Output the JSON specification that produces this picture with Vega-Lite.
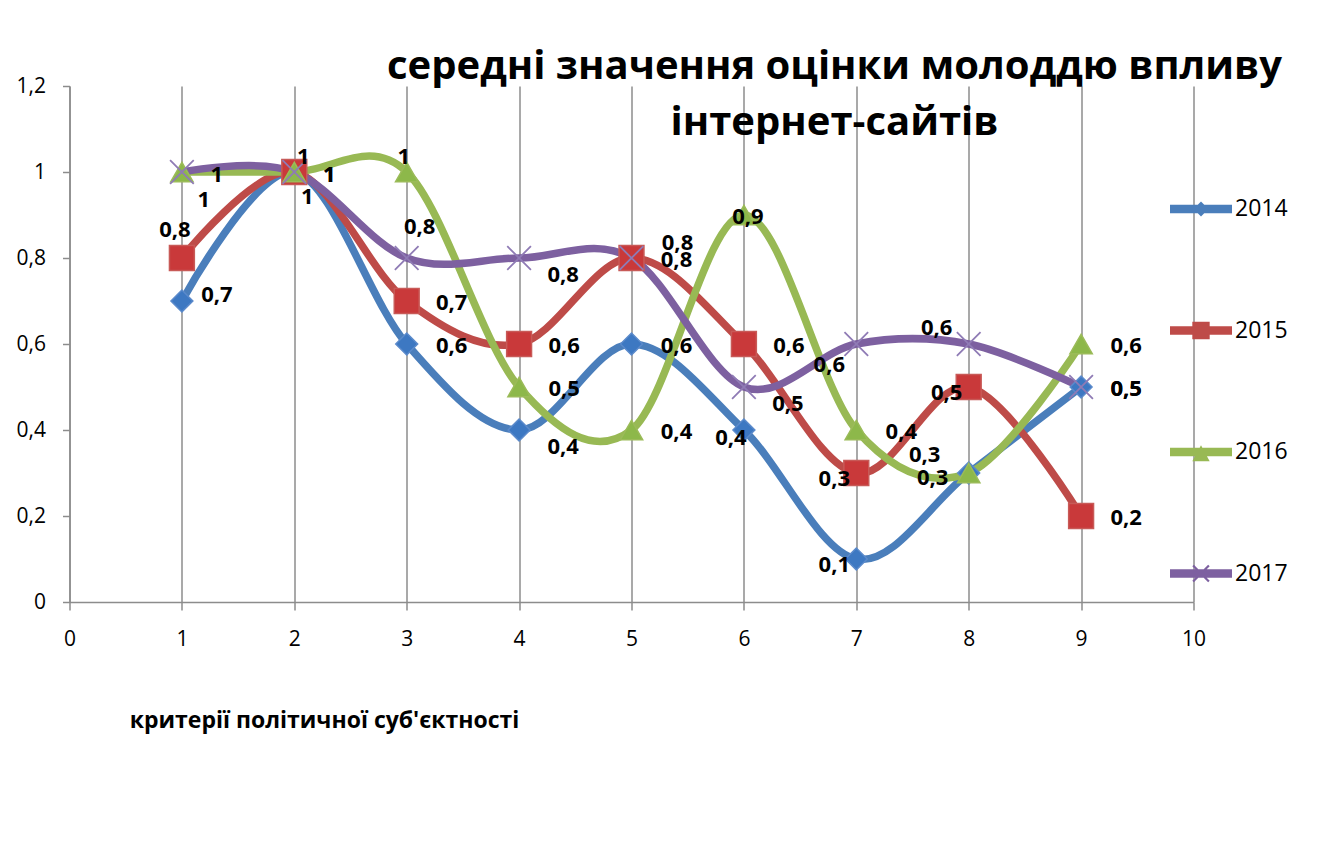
{
  "$schema": "https://vega.github.io/schema/vega-lite/v6.json",
  "width": 1124,
  "height": 516,
  "autosize": {"type": "none"},
  "padding": {"left": 69.5, "top": 86, "right": 124.5, "bottom": 252},
  "background": "white",
  "title": {
    "text": ["середні значення оцінки молоддю впливу", "інтернет-сайтів"],
    "font": "Open Sans",
    "fontSize": 40,
    "fontWeight": "bold",
    "color": "black",
    "anchor": "middle",
    "frame": "group",
    "lineHeight": 56,
    "baseline": "bottom",
    "offset": 0,
    "dx": 203,
    "dy": 108
  },
  "datasets": {
    "d": [
      {"series": "2014", "x": 1, "y": 0.7},
      {"series": "2014", "x": 2, "y": 1},
      {"series": "2014", "x": 3, "y": 0.6},
      {"series": "2014", "x": 4, "y": 0.4},
      {"series": "2014", "x": 5, "y": 0.6},
      {"series": "2014", "x": 6, "y": 0.4},
      {"series": "2014", "x": 7, "y": 0.1},
      {"series": "2014", "x": 8, "y": 0.3},
      {"series": "2014", "x": 9, "y": 0.5},
      {"series": "2015", "x": 1, "y": 0.8},
      {"series": "2015", "x": 2, "y": 1},
      {"series": "2015", "x": 3, "y": 0.7},
      {"series": "2015", "x": 4, "y": 0.6},
      {"series": "2015", "x": 5, "y": 0.8},
      {"series": "2015", "x": 6, "y": 0.6},
      {"series": "2015", "x": 7, "y": 0.3},
      {"series": "2015", "x": 8, "y": 0.5},
      {"series": "2015", "x": 9, "y": 0.2},
      {"series": "2016", "x": 1, "y": 1},
      {"series": "2016", "x": 2, "y": 1},
      {"series": "2016", "x": 3, "y": 1},
      {"series": "2016", "x": 4, "y": 0.5},
      {"series": "2016", "x": 5, "y": 0.4},
      {"series": "2016", "x": 6, "y": 0.9},
      {"series": "2016", "x": 7, "y": 0.4},
      {"series": "2016", "x": 8, "y": 0.3},
      {"series": "2016", "x": 9, "y": 0.6},
      {"series": "2017", "x": 1, "y": 1},
      {"series": "2017", "x": 2, "y": 1},
      {"series": "2017", "x": 3, "y": 0.8},
      {"series": "2017", "x": 4, "y": 0.8},
      {"series": "2017", "x": 5, "y": 0.8},
      {"series": "2017", "x": 6, "y": 0.5},
      {"series": "2017", "x": 7, "y": 0.6},
      {"series": "2017", "x": 8, "y": 0.6},
      {"series": "2017", "x": 9, "y": 0.5}
    ]
  },
  "data": {"name": "d"},
  "encoding": {
    "x": {
      "field": "x",
      "type": "quantitative",
      "scale": {"domain": [0, 10], "nice": false},
      "axis": {
        "values": [0, 1, 2, 3, 4, 5, 6, 7, 8, 9, 10],
        "format": "d",
        "grid": true,
        "gridColor": "#8C8C8C",
        "gridWidth": 1.5,
        "domainColor": "#8C8C8C",
        "domainWidth": 1.5,
        "tickColor": "#8C8C8C",
        "tickWidth": 1.5,
        "tickSize": 8,
        "labelFont": "Open Sans",
        "labelFontSize": 21,
        "labelColor": "black",
        "labelPadding": 18,
        "labelFlush": false,
        "title": "критерії політичної суб'єктності",
        "titleFont": "Open Sans",
        "titleFontSize": 23,
        "titleFontWeight": "bold",
        "titleColor": "black",
        "titleAnchor": "start",
        "titleAlign": "center",
        "titleBaseline": "middle",
        "titleX": 254.5,
        "titleY": 118
      }
    },
    "y": {
      "field": "y",
      "type": "quantitative",
      "scale": {"domain": [0, 1.2], "nice": false},
      "axis": {
        "values": [0, 0.2, 0.4, 0.6, 0.8, 1, 1.2],
        "format": "~g",
        "grid": false,
        "domainColor": "#8C8C8C",
        "domainWidth": 1.5,
        "tickColor": "#8C8C8C",
        "tickWidth": 1.5,
        "tickSize": 7,
        "labelFont": "Open Sans",
        "labelFontSize": 21,
        "labelColor": "black",
        "labelPadding": 17,
        "labelFlush": false,
        "title": null
      }
    }
  },
  "layer": [
    {
      "mark": {"type": "line", "interpolate": "cardinal", "strokeWidth": 7.5, "strokeCap": "round"},
      "encoding": {
        "color": {
          "field": "series",
          "type": "nominal",
          "scale": {"domain": ["2014", "2015", "2016", "2017"], "range": ["#4A7EBB", "#BE4B48", "#98B954", "#7D60A0"]},
          "legend": {
            "orient": "none",
            "legendX": 1100.5,
            "legendY": 92,
            "title": null,
            "padding": 0,
            "labelFont": "Open Sans",
            "labelFontSize": 23,
            "labelColor": "black",
            "labelOffset": 3,
            "symbolSize": 3844,
            "symbolStrokeWidth": 0,
            "rowPadding": 78.5,
            "encode": {
              "symbols": {
                "update": {
                  "shape": {"signal": "datum.value == '2014' ? 'M-1,-0.14L1,-0.14L1,0.14L-1,0.14ZM0,-0.24L0.24,0L0,0.24L-0.24,0Z' : datum.value == '2015' ? 'M-1,-0.14L1,-0.14L1,0.14L-1,0.14ZM-0.28,-0.28L0.28,-0.28L0.28,0.28L-0.28,0.28Z' : datum.value == '2016' ? 'M-1,-0.14L1,-0.14L1,0.14L-1,0.14ZM0,-0.22L0.28,0.3L-0.28,0.3Z' : 'M-1,-0.14L1,-0.14L1,0.14L-1,0.14ZM-0.28,-0.23L-0.23,-0.28L0.28,0.23L0.23,0.28ZM0.23,-0.28L0.28,-0.23L-0.23,0.28L-0.28,0.23Z'"},
                  "fill": {"scale": "color", "field": "value"},
                  "stroke": {"value": "transparent"},
                  "strokeWidth": {"value": 0},
                  "opacity": {"value": 1}
                }
              }
            }
          }
        }
      }
    },
    {
      "transform": [{"filter": "datum.series == '2014'"}],
      "mark": {"type": "point", "shape": "diamond", "size": 480, "filled": true, "opacity": 1, "fill": "#3D78C2", "stroke": "#5B8ACB", "strokeWidth": 1.5}
    },
    {
      "transform": [{"filter": "datum.series == '2015'"}],
      "mark": {"type": "point", "shape": "square", "size": 620, "filled": true, "opacity": 1, "fill": "#C9393A", "stroke": "#C85A57", "strokeWidth": 1.5}
    },
    {
      "transform": [{"filter": "datum.series == '2016'"}],
      "mark": {"type": "point", "shape": "triangle-up", "size": 500, "filled": true, "opacity": 1, "fill": "#8DB84A", "stroke": "#9BBB59", "strokeWidth": 1.5}
    },
    {
      "transform": [{"filter": "datum.series == '2017'"}],
      "mark": {"type": "point", "shape": "M-1,-1L1,1M-1,1L1,-1", "size": 560, "filled": false, "opacity": 1, "stroke": "#8F7BB5", "strokeWidth": 1.8}
    },
    {
      "transform": [{"filter": "indexof(['2014|3','2014|5','2014|9','2015|3','2015|4','2015|6','2015|9','2016|4','2016|5','2016|7','2016|9','2017|5','2017|9'], datum.series + '|' + datum.x) >= 0"}],
      "mark": {"type": "text", "dx": 45, "dy": 2, "font": "Open Sans", "fontWeight": "bold", "fontSize": 22, "color": "black", "align": "center", "baseline": "middle"},
      "encoding": {"text": {"field": "y", "type": "quantitative", "format": "~g"}}
    },
    {
      "transform": [{"filter": "indexof(['2014|1'], datum.series + '|' + datum.x) >= 0"}],
      "mark": {"type": "text", "dx": 35, "dy": -6, "font": "Open Sans", "fontWeight": "bold", "fontSize": 22, "color": "black", "align": "center", "baseline": "middle"},
      "encoding": {"text": {"field": "y", "type": "quantitative", "format": "~g"}}
    },
    {
      "transform": [{"filter": "indexof(['2014|2'], datum.series + '|' + datum.x) >= 0"}],
      "mark": {"type": "text", "dx": 13, "dy": 25, "font": "Open Sans", "fontWeight": "bold", "fontSize": 22, "color": "black", "align": "center", "baseline": "middle"},
      "encoding": {"text": {"field": "y", "type": "quantitative", "format": "~g"}}
    },
    {
      "transform": [{"filter": "indexof(['2014|4','2017|4','2017|6'], datum.series + '|' + datum.x) >= 0"}],
      "mark": {"type": "text", "dx": 44, "dy": 17, "font": "Open Sans", "fontWeight": "bold", "fontSize": 22, "color": "black", "align": "center", "baseline": "middle"},
      "encoding": {"text": {"field": "y", "type": "quantitative", "format": "~g"}}
    },
    {
      "transform": [{"filter": "indexof(['2014|6'], datum.series + '|' + datum.x) >= 0"}],
      "mark": {"type": "text", "dx": -13, "dy": 8, "font": "Open Sans", "fontWeight": "bold", "fontSize": 22, "color": "black", "align": "center", "baseline": "middle"},
      "encoding": {"text": {"field": "y", "type": "quantitative", "format": "~g"}}
    },
    {
      "transform": [{"filter": "indexof(['2014|7','2015|7','2015|8'], datum.series + '|' + datum.x) >= 0"}],
      "mark": {"type": "text", "dx": -22, "dy": 6, "font": "Open Sans", "fontWeight": "bold", "fontSize": 22, "color": "black", "align": "center", "baseline": "middle"},
      "encoding": {"text": {"field": "y", "type": "quantitative", "format": "~g"}}
    },
    {
      "transform": [{"filter": "indexof(['2014|8'], datum.series + '|' + datum.x) >= 0"}],
      "mark": {"type": "text", "dx": -44, "dy": -18, "font": "Open Sans", "fontWeight": "bold", "fontSize": 22, "color": "black", "align": "center", "baseline": "middle"},
      "encoding": {"text": {"field": "y", "type": "quantitative", "format": "~g"}}
    },
    {
      "transform": [{"filter": "indexof(['2015|1'], datum.series + '|' + datum.x) >= 0"}],
      "mark": {"type": "text", "dx": -7, "dy": -28, "font": "Open Sans", "fontWeight": "bold", "fontSize": 22, "color": "black", "align": "center", "baseline": "middle"},
      "encoding": {"text": {"field": "y", "type": "quantitative", "format": "~g"}}
    },
    {
      "transform": [{"filter": "indexof(['2015|2'], datum.series + '|' + datum.x) >= 0"}],
      "mark": {"type": "text", "dx": 9, "dy": -15, "font": "Open Sans", "fontWeight": "bold", "fontSize": 22, "color": "black", "align": "center", "baseline": "middle"},
      "encoding": {"text": {"field": "y", "type": "quantitative", "format": "~g"}}
    },
    {
      "transform": [{"filter": "indexof(['2015|5'], datum.series + '|' + datum.x) >= 0"}],
      "mark": {"type": "text", "dx": 46, "dy": -15, "font": "Open Sans", "fontWeight": "bold", "fontSize": 22, "color": "black", "align": "center", "baseline": "middle"},
      "encoding": {"text": {"field": "y", "type": "quantitative", "format": "~g"}}
    },
    {
      "transform": [{"filter": "indexof(['2016|1','2016|2','2017|2'], datum.series + '|' + datum.x) >= 0"}],
      "mark": {"type": "text", "dx": 35, "dy": 3, "font": "Open Sans", "fontWeight": "bold", "fontSize": 22, "color": "black", "align": "center", "baseline": "middle"},
      "encoding": {"text": {"field": "y", "type": "quantitative", "format": "~g"}}
    },
    {
      "transform": [{"filter": "indexof(['2016|3'], datum.series + '|' + datum.x) >= 0"}],
      "mark": {"type": "text", "dx": -3, "dy": -15, "font": "Open Sans", "fontWeight": "bold", "fontSize": 22, "color": "black", "align": "center", "baseline": "middle"},
      "encoding": {"text": {"field": "y", "type": "quantitative", "format": "~g"}}
    },
    {
      "transform": [{"filter": "indexof(['2016|6'], datum.series + '|' + datum.x) >= 0"}],
      "mark": {"type": "text", "dx": 4, "dy": 2, "font": "Open Sans", "fontWeight": "bold", "fontSize": 22, "color": "black", "align": "center", "baseline": "middle"},
      "encoding": {"text": {"field": "y", "type": "quantitative", "format": "~g"}}
    },
    {
      "transform": [{"filter": "indexof(['2016|8'], datum.series + '|' + datum.x) >= 0"}],
      "mark": {"type": "text", "dx": -36, "dy": 5, "font": "Open Sans", "fontWeight": "bold", "fontSize": 22, "color": "black", "align": "center", "baseline": "middle"},
      "encoding": {"text": {"field": "y", "type": "quantitative", "format": "~g"}}
    },
    {
      "transform": [{"filter": "indexof(['2017|1'], datum.series + '|' + datum.x) >= 0"}],
      "mark": {"type": "text", "dx": 22, "dy": 28, "font": "Open Sans", "fontWeight": "bold", "fontSize": 22, "color": "black", "align": "center", "baseline": "middle"},
      "encoding": {"text": {"field": "y", "type": "quantitative", "format": "~g"}}
    },
    {
      "transform": [{"filter": "indexof(['2017|3'], datum.series + '|' + datum.x) >= 0"}],
      "mark": {"type": "text", "dx": 13, "dy": -31, "font": "Open Sans", "fontWeight": "bold", "fontSize": 22, "color": "black", "align": "center", "baseline": "middle"},
      "encoding": {"text": {"field": "y", "type": "quantitative", "format": "~g"}}
    },
    {
      "transform": [{"filter": "indexof(['2017|7'], datum.series + '|' + datum.x) >= 0"}],
      "mark": {"type": "text", "dx": -27, "dy": 21, "font": "Open Sans", "fontWeight": "bold", "fontSize": 22, "color": "black", "align": "center", "baseline": "middle"},
      "encoding": {"text": {"field": "y", "type": "quantitative", "format": "~g"}}
    },
    {
      "transform": [{"filter": "indexof(['2017|8'], datum.series + '|' + datum.x) >= 0"}],
      "mark": {"type": "text", "dx": -32, "dy": -16, "font": "Open Sans", "fontWeight": "bold", "fontSize": 22, "color": "black", "align": "center", "baseline": "middle"},
      "encoding": {"text": {"field": "y", "type": "quantitative", "format": "~g"}}
    }
  ],
  "config": {
    "view": {"stroke": null},
    "font": "Open Sans",
    "locale": {
      "number": {"decimal": ",", "thousands": " ", "grouping": [3], "currency": ["", ""]}
    }
  }
}
